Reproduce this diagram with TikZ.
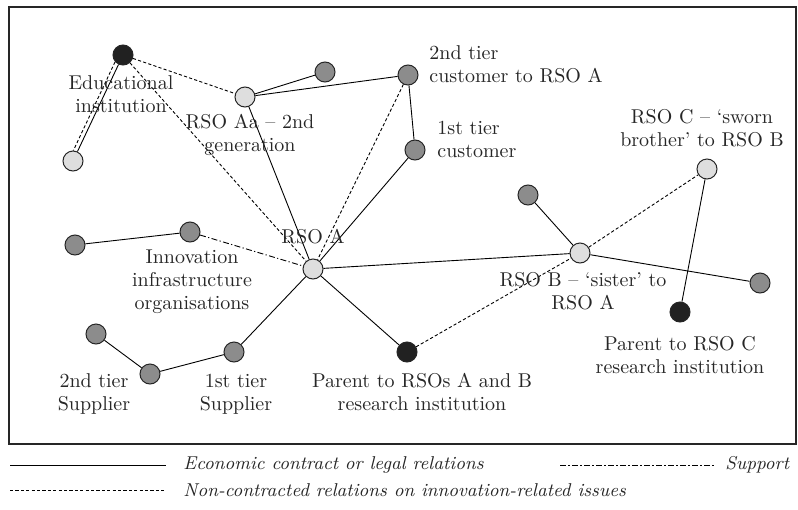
\documentclass[tikz,border=0pt]{standalone}
\usetikzlibrary{positioning}
\tikzset{
  rso/.style={circle,draw=black!85,fill=black!13,minimum size=10pt,inner sep=0pt,line width=0.5pt},
  firm/.style={rso,fill=black!45},
  inst/.style={rso,fill=black!87},
  contract/.style={draw=black,line width=0.45pt},
  noncontract/.style={draw=black,line width=0.45pt,dash pattern=on 1.6pt off 1.1pt},
  support/.style={draw=black,line width=0.45pt,dash pattern=on 3pt off 1.2pt on 0.6pt off 1.2pt},
  lbl/.style={align=center,inner sep=0pt,text=black!85,font=\fontsize{10}{11.5}\selectfont},
  legend/.style={anchor=west,inner sep=0pt,text=black!85,font=\fontsize{9.3}{11}\selectfont\itshape}
}

\begin{document}
\begin{tikzpicture}[x=0.5pt,y=-0.5pt]
  \useasboundingbox (0,0) rectangle (798,509);
  \draw[line width=1.1pt,black!85] (9,7) rectangle (796,444);
  % organisations
  \node[inst] (edu) at (123,55) {};
  \node[rso]  (eduspin) at (73,161) {};
  \node[rso]  (rsoaa) at (245,97) {};
  \node[firm] (aafirm) at (325,72) {};
  \node[firm] (cust2) at (408,75) {};
  \node[firm] (cust1) at (415,150) {};
  \node[rso]  (rsoa) at (313,269) {};
  \node[firm] (innov) at (190,232) {};
  \node[firm] (innovfirm) at (75,245) {};
  \node[firm] (sup1) at (234,352) {};
  \node[firm] (sup2) at (150,374) {};
  \node[firm] (sup2top) at (96,334) {};
  \node[inst] (parentab) at (407,352) {};
  \node[rso]  (rsob) at (580,253) {};
  \node[firm] (bfirm) at (528,195) {};
  \node[firm] (bright) at (760,283) {};
  \node[rso]  (rsoc) at (707,169) {};
  \node[inst] (parentc) at (680,312) {};
  % relations
  \draw[contract] (edu) -- (eduspin);
  \draw[noncontract] (edu.221) -- (eduspin.88);
  \draw[noncontract] (edu) -- (rsoaa);
  \draw[noncontract] (edu) -- (rsoa);
  \draw[contract] (rsoaa) -- (aafirm);
  \draw[contract] (rsoaa) -- (cust2);
  \draw[contract] (rsoaa) -- (rsoa);
  \draw[contract] (cust2) -- (cust1);
  \draw[noncontract] (cust2) -- (rsoa);
  \draw[contract] (cust1) -- (rsoa);
  \draw[contract] (innovfirm) -- (innov);
  \draw[support] (innov) -- (rsoa);
  \draw[contract] (rsoa) -- (sup1);
  \draw[contract] (sup1) -- (sup2);
  \draw[contract] (sup2) -- (sup2top);
  \draw[contract] (rsoa) -- (parentab);
  \draw[contract] (rsoa) -- (rsob);
  \draw[noncontract] (parentab) -- (rsob);
  \draw[noncontract] (rsob) -- (rsoc);
  \draw[contract] (rsob) -- (bfirm);
  \draw[contract] (rsob) -- (bright);
  \draw[contract] (rsoc) -- (parentc);
  % labels
  \node[lbl] (edulbl) at (121,94) {Educational\\institution};
  \node[lbl] (rsoaalbl) at (250,135) {RSO Aa -- 2nd\\generation};
  \node[lbl,align=left,anchor=west] (cust2lbl) at (429,64) {2nd tier\\customer to RSO A};
  \node[lbl,align=left,anchor=west] (cust1lbl) at (437,139) {1st tier\\customer};
  \node[lbl] (rsoclbl) at (702,128) {RSO C -- `sworn\\brother' to RSO B};
  \node[lbl] (rsoalbl) at (313,237) {RSO A};
  \node[lbl] (innovlbl) at (192,282) {Innovation\\infrastructure\\organisations};
  \node[lbl] (sup2lbl) at (94,394) {2nd tier\\Supplier};
  \node[lbl] (sup1lbl) at (236,394) {1st tier\\Supplier};
  \node[lbl] (parentablbl) at (422,392) {Parent to RSOs A and B\\research institution};
  \node[lbl] (rsoblbl) at (583,291) {RSO B -- `sister' to\\RSO A};
  \node[lbl] (parentclbl) at (680,355) {Parent to RSO C\\research institution};
  % legend
  \coordinate (lega) at (10,465);
  \coordinate (legb) at (166,465);
  \coordinate (legc) at (10,490);
  \coordinate (legd) at (166,490);
  \coordinate (lege) at (560,465);
  \coordinate (legf) at (715,465);
  \draw[contract] (lega) -- (legb);
  \draw[noncontract] (legc) -- (legd);
  \draw[support] (lege) -- (legf);
  \node[legend] (legcontract) at (183,465) {Economic contract or legal relations};
  \node[legend] (legnon) at (183,490) {Non-contracted relations on innovation-related issues};
  \node[legend] (legsupport) at (725,465) {Support};
\end{tikzpicture}
\end{document}
